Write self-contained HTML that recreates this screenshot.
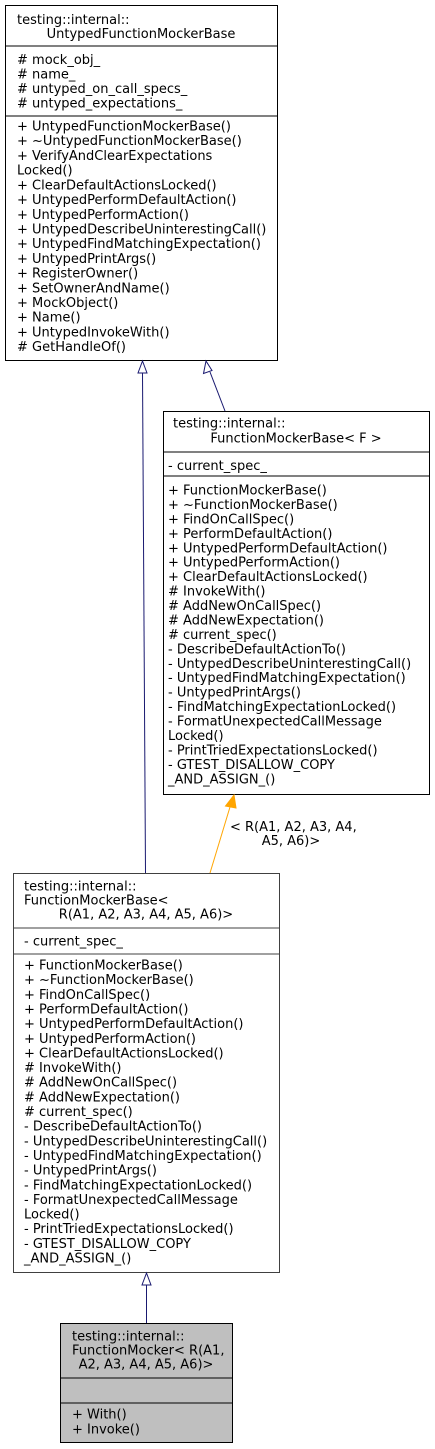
<!DOCTYPE html>
<html><head><meta charset="utf-8"><style>
html,body{margin:0;padding:0;background:#fff;}
svg{display:block;}
text{font-family:"DejaVu Sans","Liberation Sans",sans-serif;font-size:13px;fill:#000;}
</style></head><body>
<svg width="435" height="1449" viewBox="0 0 435 1449" xmlns="http://www.w3.org/2000/svg">
<!-- Box 1 -->
<rect x="5.5" y="5.5" width="272" height="355" fill="#fff" stroke="#000"/>
<line x1="5" y1="46" x2="277" y2="46" stroke="#000"/>
<line x1="5" y1="116" x2="277" y2="116" stroke="#000"/>
<text x="17" y="24">testing::internal::</text>
<text x="141" y="38" text-anchor="middle">UntypedFunctionMockerBase</text>
<text x="17" y="64"># mock_obj_</text>
<text x="17" y="78.5"># name_</text>
<text x="17" y="93"># untyped_on_call_specs_</text>
<text x="17" y="107.5"># untyped_expectations_</text>
<text x="17" y="130.5">+ UntypedFunctionMockerBase()</text>
<text x="17" y="145.2">+ ~UntypedFunctionMockerBase()</text>
<text x="17" y="159.9">+ VerifyAndClearExpectations</text>
<text x="17" y="174.6">Locked()</text>
<text x="17" y="189.3">+ ClearDefaultActionsLocked()</text>
<text x="17" y="204.1">+ UntypedPerformDefaultAction()</text>
<text x="17" y="218.8">+ UntypedPerformAction()</text>
<text x="17" y="233.5">+ UntypedDescribeUninterestingCall()</text>
<text x="17" y="248.2">+ UntypedFindMatchingExpectation()</text>
<text x="17" y="262.9">+ UntypedPrintArgs()</text>
<text x="17" y="277.6">+ RegisterOwner()</text>
<text x="17" y="292.3">+ SetOwnerAndName()</text>
<text x="17" y="307">+ MockObject()</text>
<text x="17" y="321.7">+ Name()</text>
<text x="17" y="336.4">+ UntypedInvokeWith()</text>
<text x="17" y="351.2"># GetHandleOf()</text>

<!-- Box 2 -->
<rect x="163.5" y="411.5" width="266" height="383" fill="#fff" stroke="#000"/>
<line x1="163" y1="452" x2="430" y2="452" stroke="#000"/>
<line x1="163" y1="476" x2="430" y2="476" stroke="#000"/>
<text x="173" y="427.5">testing::internal::</text>
<text x="296" y="442.5" text-anchor="middle">FunctionMockerBase&lt; F &gt;</text>
<text x="168" y="470">- current_spec_</text>
<text x="168" y="494.5">+ FunctionMockerBase()</text>
<text x="168" y="508.9">+ ~FunctionMockerBase()</text>
<text x="168" y="523.4">+ FindOnCallSpec()</text>
<text x="168" y="537.8">+ PerformDefaultAction()</text>
<text x="168" y="552.3">+ UntypedPerformDefaultAction()</text>
<text x="168" y="566.7">+ UntypedPerformAction()</text>
<text x="168" y="581.1">+ ClearDefaultActionsLocked()</text>
<text x="168" y="595.6"># InvokeWith()</text>
<text x="168" y="610"># AddNewOnCallSpec()</text>
<text x="168" y="624.5"># AddNewExpectation()</text>
<text x="168" y="638.9"># current_spec()</text>
<text x="168" y="653.3">- DescribeDefaultActionTo()</text>
<text x="168" y="667.8">- UntypedDescribeUninterestingCall()</text>
<text x="168" y="682.2">- UntypedFindMatchingExpectation()</text>
<text x="168" y="696.7">- UntypedPrintArgs()</text>
<text x="168" y="711.1">- FindMatchingExpectationLocked()</text>
<text x="168" y="725.5">- FormatUnexpectedCallMessage</text>
<text x="168" y="740">Locked()</text>
<text x="168" y="754.4">- PrintTriedExpectationsLocked()</text>
<text x="168" y="768.9">- GTEST_DISALLOW_COPY</text>
<text x="168" y="783.3">_AND_ASSIGN_()</text>

<!-- Box 3 -->
<rect x="13.5" y="873.5" width="266" height="399" fill="#fff" stroke="#404040"/>
<line x1="13" y1="928" x2="279" y2="928" stroke="#404040"/>
<line x1="13" y1="954" x2="279" y2="954" stroke="#404040"/>
<text x="24" y="890.5">testing::internal::</text>
<text x="24" y="904.5">FunctionMockerBase&lt;</text>
<text x="146" y="918.5" text-anchor="middle">R(A1, A2, A3, A4, A5, A6)&gt;</text>
<text x="24" y="945.5">- current_spec_</text>
<text x="24" y="969.5">+ FunctionMockerBase()</text>
<text x="24" y="984.2">+ ~FunctionMockerBase()</text>
<text x="24" y="998.8">+ FindOnCallSpec()</text>
<text x="24" y="1013.5">+ PerformDefaultAction()</text>
<text x="24" y="1028.1">+ UntypedPerformDefaultAction()</text>
<text x="24" y="1042.8">+ UntypedPerformAction()</text>
<text x="24" y="1057.4">+ ClearDefaultActionsLocked()</text>
<text x="24" y="1072.1"># InvokeWith()</text>
<text x="24" y="1086.7"># AddNewOnCallSpec()</text>
<text x="24" y="1101.4"># AddNewExpectation()</text>
<text x="24" y="1116"># current_spec()</text>
<text x="24" y="1130.7">- DescribeDefaultActionTo()</text>
<text x="24" y="1145.3">- UntypedDescribeUninterestingCall()</text>
<text x="24" y="1160">- UntypedFindMatchingExpectation()</text>
<text x="24" y="1174.6">- UntypedPrintArgs()</text>
<text x="24" y="1189.3">- FindMatchingExpectationLocked()</text>
<text x="24" y="1203.9">- FormatUnexpectedCallMessage</text>
<text x="24" y="1218.6">Locked()</text>
<text x="24" y="1233.2">- PrintTriedExpectationsLocked()</text>
<text x="24" y="1247.9">- GTEST_DISALLOW_COPY</text>
<text x="24" y="1262.5">_AND_ASSIGN_()</text>

<!-- Box 4 -->
<rect x="60.5" y="1323.5" width="172" height="119" fill="#bfbfbf" stroke="#000"/>
<line x1="60" y1="1378" x2="233" y2="1378" stroke="#000"/>
<line x1="60" y1="1403" x2="233" y2="1403" stroke="#000"/>
<text x="72" y="1340.5">testing::internal::</text>
<text x="72" y="1354.5">FunctionMocker&lt; R(A1,</text>
<text x="146" y="1368.5" text-anchor="middle">A2, A3, A4, A5, A6)&gt;</text>
<text x="72" y="1418.5">+ With()</text>
<text x="72" y="1433.5">+ Invoke()</text>

<!-- Connectors -->
<line x1="145.5" y1="873" x2="142.5" y2="373" stroke="#191970"/>
<polygon points="142.5,361 138,373 147,373" fill="#fff" stroke="#191970"/>
<line x1="225" y1="411" x2="210" y2="372" stroke="#191970"/>
<polygon points="206,361 203.5,373.5 212,370.5" fill="#fff" stroke="#191970"/>
<line x1="210" y1="873" x2="230" y2="807" stroke="#ffa500"/>
<polygon points="234,795 225.5,806 236,808" fill="#ffa500" stroke="#ffa500"/>
<line x1="146.5" y1="1323" x2="146.5" y2="1285" stroke="#191970"/>
<polygon points="146.5,1273 142,1285 151,1285" fill="#fff" stroke="#191970"/>
<text x="230" y="831">&lt; R(A1, A2, A3, A4,</text>
<text x="291" y="845" text-anchor="middle">A5, A6)&gt;</text>
</svg>
</body></html>
